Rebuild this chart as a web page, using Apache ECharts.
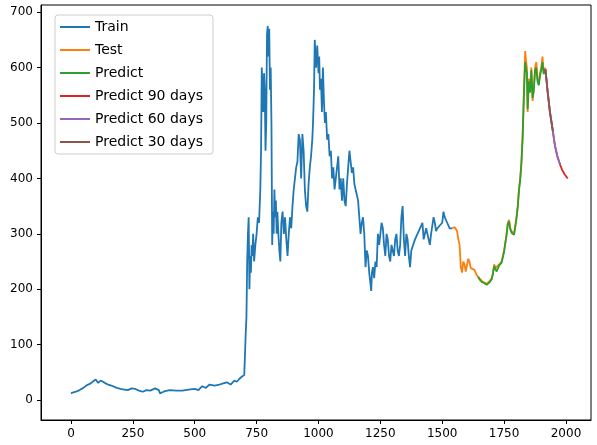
<!DOCTYPE html>
<html><head><meta charset="utf-8">
<script src="https://cdn.jsdelivr.net/npm/echarts@6/dist/echarts.min.js"></script>
<style>html,body{margin:0;padding:0;background:#fff}#c{width:597px;height:445px}</style>
</head><body><div id="c"></div>
<script>
const xTicks=[0,250,500,750,1000,1250,1500,1750,2000];
const yTicks=[0,100,200,300,400,500,600,700];
const train=[[0,12],[10,14],[20,15],[35,18],[50,22],[65,27],[80,30],[90,34],[100,37],[110,31],[120,35],[130,33],[140,30],[150,28],[170,25],[185,22],[200,20],[215,19],[230,18],[245,21],[260,20],[275,17],[290,15],[305,18],[320,17],[340,21],[355,18],[360,12],[370,14],[380,16],[400,18],[425,17],[450,17],[475,19],[500,20],[515,18],[530,25],[545,22],[560,28],[580,26],[600,28],[615,30],[630,32],[645,28],[660,35],[670,33],[680,38],[690,42],[700,45],[703,80],[706,120],[709,150],[712,250],[715,300],[718,330],[721,200],[724,260],[727,230],[730,280],[733,260],[736,300],[740,250],[745,280],[750,300],[755,330],[760,320],[765,380],[768,450],[771,600],[774,560],[777,520],[780,590],[783,560],[786,450],[789,500],[792,660],[795,675],[798,620],[801,670],[804,560],[807,600],[810,500],[813,280],[816,340],[819,300],[822,380],[825,330],[828,360],[831,300],[834,340],[838,300],[842,270],[846,250],[850,320],[855,340],[860,300],[865,330],[870,290],[875,260],[880,300],[885,330],[890,310],[895,350],[900,380],[905,400],[910,420],[915,430],[920,480],[925,470],[930,400],[935,480],[940,450],[945,380],[950,350],[955,340],[960,390],[965,420],[970,440],[975,470],[978,500],[982,560],[985,650],[990,600],[995,640],[1000,590],[1003,620],[1006,560],[1010,580],[1014,520],[1018,600],[1022,540],[1026,500],[1030,520],[1035,470],[1040,480],[1045,440],[1050,450],[1055,400],[1060,420],[1065,380],[1070,400],[1075,420],[1080,440],[1085,380],[1090,400],[1095,360],[1100,400],[1105,360],[1110,350],[1115,390],[1120,420],[1125,450],[1130,430],[1135,410],[1140,420],[1145,390],[1150,380],[1155,370],[1160,360],[1165,330],[1170,300],[1175,320],[1180,330],[1185,300],[1190,240],[1195,270],[1200,260],[1205,230],[1210,210],[1213,197],[1216,230],[1220,240],[1225,220],[1230,250],[1235,240],[1240,300],[1245,280],[1250,300],[1255,320],[1260,310],[1265,280],[1270,260],[1275,300],[1280,290],[1285,260],[1290,250],[1295,280],[1300,270],[1305,260],[1310,290],[1315,300],[1320,270],[1325,260],[1330,280],[1335,330],[1340,350],[1345,290],[1350,260],[1355,300],[1360,290],[1365,260],[1370,240],[1375,270],[1380,270],[1390,290],[1400,300],[1410,310],[1420,320],[1425,290],[1430,290],[1435,310],[1440,310],[1450,280],[1455,300],[1460,300],[1465,330],[1470,320],[1475,305],[1480,310],[1490,315],[1500,320],[1505,340],[1510,330],[1520,320],[1530,310],[1540,310]];
const test=[[1540,310],[1550,312],[1560,305],[1565,290],[1570,280],[1575,240],[1580,230],[1585,250],[1590,245],[1595,232],[1600,235],[1605,255],[1610,250],[1615,238],[1620,240],[1630,235],[1640,225],[1650,220],[1660,215],[1670,212],[1680,210],[1690,214],[1700,220],[1705,230],[1710,245],[1715,238],[1720,235],[1730,245],[1740,250],[1750,270],[1760,300],[1765,320],[1770,325],[1775,310],[1780,305],[1790,300],[1795,315],[1800,330],[1805,350],[1810,380],[1815,400],[1820,430],[1825,480],[1830,560],[1835,630],[1838,615],[1842,600],[1845,520],[1850,580],[1855,560],[1860,600],[1865,540],[1870,560],[1875,600],[1880,610],[1885,580],[1890,570],[1895,590],[1900,600],[1905,620],[1910,590],[1917,600]];
const predict=[[1645,222],[1650,218],[1660,213],[1670,211],[1680,208],[1690,212],[1700,218],[1705,228],[1710,242],[1715,236],[1720,232],[1730,243],[1740,248],[1750,268],[1760,298],[1765,318],[1770,322],[1775,308],[1780,302],[1790,298],[1795,312],[1800,328],[1805,348],[1810,378],[1815,398],[1820,428],[1825,475],[1830,550],[1835,610],[1838,600],[1842,590],[1845,525],[1850,575],[1855,555],[1860,595],[1865,545],[1870,560],[1875,595],[1880,600],[1885,575],[1890,568],[1895,585],[1900,595],[1905,610],[1910,588],[1917,597]];
const pred90=[[1917,597],[1925,560],[1935,520],[1947,485],[1955,460],[1965,440],[1976,425],[1985,415],[1995,407],[2007,400]];
const pred60=[[1917,597],[1925,560],[1935,520],[1947,485],[1955,460],[1965,440],[1976,425]];
const pred30=[[1917,597],[1925,560],[1935,520],[1947,485]];
const names=['Train','Test','Predict','Predict 90 days','Predict 60 days','Predict 30 days'];
const colors=['#1f77b4','#ff7f0e','#2ca02c','#d62728','#9467bd','#8c564b'];
const datas=[train,test,predict,pred90,pred60,pred30];
const ch=echarts.init(document.getElementById('c'));
function mkAxis(min,max,ticks){return {type:'value',min:min,max:max,
 axisLine:{show:true,onZero:false,lineStyle:{color:'#000'}},
 axisTick:{show:true,length:4,lineStyle:{color:'#000'},customValues:ticks},
 axisLabel:{color:'#000',fontSize:12,fontFamily:'DejaVu Sans',customValues:ticks,formatter:v=>String(v)},
 splitLine:{show:false}};}
ch.setOption({
 animation:false,
 grid:{left:41,right:6,top:5,bottom:25,show:true,borderColor:'#000',borderWidth:1,backgroundColor:'transparent'},
 xAxis:mkAxis(-121,2101,xTicks),
 yAxis:mkAxis(-36,713,yTicks),
 legend:{orient:'vertical',left:55,top:15,itemGap:9,itemWidth:30,itemHeight:2,icon:'rect',backgroundColor:'#fff',borderColor:'#ccc',borderWidth:1,borderRadius:3,padding:[5,10,5,5],textStyle:{fontSize:14,fontFamily:'DejaVu Sans',color:'#000'},data:names},
 series:datas.map((d,i)=>({name:names[i],type:'line',data:d,showSymbol:false,symbol:'none',color:colors[i],lineStyle:{width:1.8,color:colors[i]},z:2+i}))
});
</script></body></html>
